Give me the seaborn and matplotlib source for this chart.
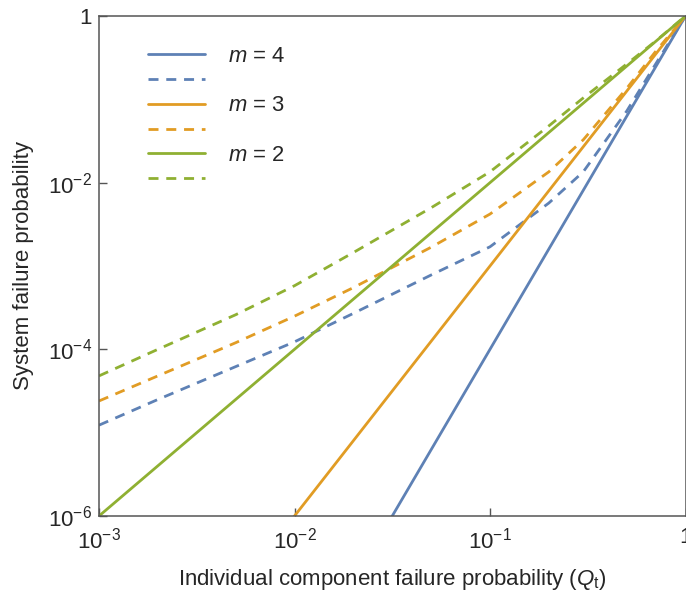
import numpy as np
import pandas as pd
import seaborn as sns
import matplotlib.pyplot as plt
from matplotlib.lines import Line2D
from matplotlib.ticker import FixedLocator, FuncFormatter, NullLocator

# individual component failure probability
q = [1e-3, 2e-3, 5e-3, 1e-2, 2e-2, 5e-2, 0.1, 0.2, 0.3, 0.5, 0.7, 1.0]

# dashed curves (with common cause)
ccf_m4 = [1.23e-5, 2.5e-5, 6.2e-5, 1.23e-4, 2.7e-4, 7.8e-4, 1.7e-3, 5.7e-3, 1.35e-2, 7.2e-2, 0.26, 1.0]
ccf_m3 = [2.4e-5, 4.8e-5, 1.2e-4, 2.5e-4, 5.5e-4, 1.68e-3, 4.2e-3, 1.35e-2, 3.27e-2, 0.135, 0.37, 1.0]
ccf_m2 = [4.8e-5, 1.0e-4, 2.6e-4, 5.8e-4, 1.45e-3, 5.0e-3, 1.35e-2, 4.8e-2, 0.104, 0.265, 0.495, 1.0]

# solid lines (independent failures), end points
q_ind = [1e-3, 1.0]
ind_m4 = [1e-12, 1.0]
ind_m3 = [1e-9, 1.0]
ind_m2 = [1e-6, 1.0]

m_labels = ["4", "3", "2"]
colors = ["#5E81B5", "#E19C24", "#8FB032"]

sns.set_theme(style="ticks")
plt.rcParams['font.family'] = ['Liberation Sans', 'DejaVu Sans']
plt.rcParams['mathtext.fontset'] = 'custom'
plt.rcParams['mathtext.rm'] = 'Liberation Sans'
plt.rcParams['mathtext.it'] = 'Liberation Sans:italic'

fig = plt.figure(figsize=(6.86, 5.92), dpi=100)
ax = fig.add_axes([99/686, 1 - 516/592, 586.5/686, 500/592])

lw = 2.0
dash = (3.6, 2.8)
for ind, ccf, c in zip([ind_m4, ind_m3, ind_m2], [ccf_m4, ccf_m3, ccf_m2], colors):
    sns.lineplot(x=q_ind, y=ind, color=c, linewidth=lw, ax=ax)
    sns.lineplot(x=q, y=ccf, color=c, linewidth=lw, ax=ax, linestyle=(0, dash))

ax.set_xscale('log')
ax.set_yscale('log')
ax.set_xlim(1e-3, 1)
ax.set_ylim(1e-6, 1)

def fmt(v, pos):
    e = int(round(np.log10(v)))
    if e == 0:
        return "1"
    return r"$10^{%d}$" % e

ax.xaxis.set_major_locator(FixedLocator([1e-3, 1e-2, 1e-1, 1]))
ax.yaxis.set_major_locator(FixedLocator([1e-6, 1e-4, 1e-2, 1]))
ax.xaxis.set_minor_locator(NullLocator())
ax.yaxis.set_minor_locator(NullLocator())
ax.xaxis.set_major_formatter(FuncFormatter(fmt))
ax.yaxis.set_major_formatter(FuncFormatter(fmt))
ax.tick_params(direction='in', length=6, width=1, color='#555555', labelsize=16)
ax.tick_params(axis='x', pad=8)
ax.tick_params(axis='y', pad=5)

for s in ax.spines.values():
    s.set_color('#555555')
    s.set_linewidth(1.1)

ax.set_xlabel(r"Individual component failure probability ($Q_\mathrm{t}$)", fontsize=16, labelpad=10)
ax.set_ylabel("System failure probability", fontsize=16, labelpad=10)

handles = []
labels = []
for m, c in zip(m_labels, colors):
    handles.append(Line2D([], [], color=c, lw=lw))
    labels.append(r"$m$ = " + m)
    handles.append(Line2D([], [], color=c, lw=lw, linestyle=(0, dash)))
    labels.append("")
ax.legend(handles, labels, loc='upper left', bbox_to_anchor=(0.083, 0.94), frameon=False,
          borderpad=0, borderaxespad=0, handlelength=2.6, handletextpad=1.05,
          labelspacing=0.17, fontsize=15.8)

plt.savefig("out.png", dpi=100)
